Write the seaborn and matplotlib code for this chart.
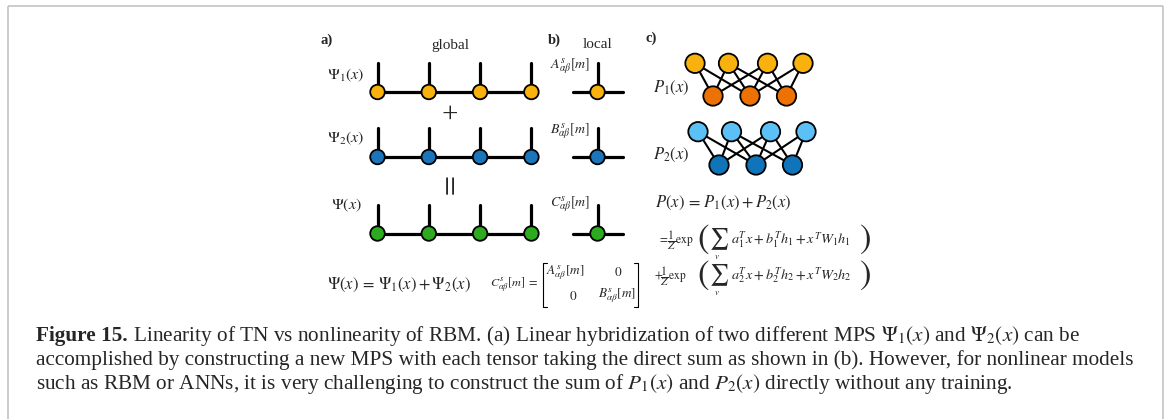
import numpy as np
import pandas as pd
import matplotlib
matplotlib.use("Agg")
import matplotlib.pyplot as plt
import seaborn as sns

# ------------------------------------------------------------------ data
mps_sites = [1, 2, 3, 4]
mps_rows = ["psi1", "psi2", "psi"]
mps_row_labels = [r"$\Psi_1(x)$", r"$\Psi_2(x)$", r"$\Psi(x)$"]
local_labels = [r"$A^s_{\alpha\beta}[m]$", r"$B^s_{\alpha\beta}[m]$", r"$C^s_{\alpha\beta}[m]$"]
mps_colors = ["#F9B10E", "#1B75BB", "#2DAA1F"]

rbm_models = ["P1", "P2"]
rbm_labels = [r"$P_1(x)$", r"$P_2(x)$"]
rbm_visible = [1, 2, 3, 4]
rbm_hidden = [1, 2, 3]
rbm_edges = [(1, 1), (1, 2), (2, 1), (2, 2), (2, 3), (3, 1), (3, 2), (3, 3), (4, 2), (4, 3)]
rbm_visible_colors = ["#F9B10E", "#5BC0F5"]
rbm_hidden_colors = ["#EE7203", "#0F74BA"]

panel_letters = ["a)", "b)", "c)"]
panel_titles = ["global", "local"]

eq_mps = r"$\Psi(x)\,=\,\Psi_1(x)+\Psi_2(x)$"
eq_c_lhs = r"$C^s_{\alpha\beta}[m]\;=$"
matrix_entries = [[r"$A^s_{\alpha\beta}[m]$", r"$0$"], [r"$0$", r"$B^s_{\alpha\beta}[m]$"]]
eq_p = r"$P(x)\,=\,P_1(x)+P_2(x)$"
eq_terms_prefix = [r"$=\!\dfrac{1}{Z}\mathrm{exp}$", r"$+\!\dfrac{1}{Z}\mathrm{exp}$"]
eq_terms_body = [r"$a_1^Tx+b_1^Th_1+x^TW_1h_1$", r"$a_2^Tx+b_2^Th_2+x^TW_2h_2$"]
sum_symbol = r"$\sum$"
sum_index = r"$v$"

caption_bold = "Figure 15."
caption_lines = [
    r" Linearity of TN vs nonlinearity of RBM. (a) Linear hybridization of two different MPS $\Psi_1(x)$ and $\Psi_2(x)$ can be",
    "accomplished by constructing a new MPS with each tensor taking the direct sum as shown in (b). However, for nonlinear models",
    r"such as RBM or ANNs, it is very challenging to construct the sum of $P_1(x)$ and $P_2(x)$ directly without any training.",
]

# ------------------------------------------------------------------ layout
W, H = 1167, 419
sns.set_theme(style="white")
plt.rcParams["font.family"] = ["Liberation Serif", "DejaVu Serif"]
plt.rcParams["mathtext.fontset"] = "stix"

fig = plt.figure(figsize=(W / 100, H / 100), dpi=100)
fig.patch.set_facecolor("white")
ax = fig.add_axes([0, 0, 1, 1])
ax.set_xlim(0, W)
ax.set_ylim(H, 0)
ax.axis("off")

# frame
frame_c = "#c4c4c4"
ax.plot([7.5, 7.5], [H + 5, 5.7], color=frame_c, lw=1.2, solid_capstyle="butt")
ax.plot([7.5, 1162.5], [5.7, 5.7], color=frame_c, lw=1.2, solid_capstyle="butt")
ax.plot([1162.5, 1162.5], [5.7, H + 5], color=frame_c, lw=1.2, solid_capstyle="butt")

# MPS chains
site_x0, site_dx = 377.5, 51.3
row_y = [92, 157, 233.5]
row_label_y = [75, 138.5, 205]
local_label_y = [66.7, 131.7, 204]
stem = 29
local_x, local_half = 597.5, 25
bond_lw = 2.3

nodes = []
for r, (row, y) in enumerate(zip(mps_rows, row_y)):
    xs = [site_x0 + (s - 1) * site_dx for s in mps_sites]
    ax.plot([xs[0], xs[-1]], [y, y], color="black", lw=bond_lw, zorder=2)
    for x in xs:
        ax.plot([x, x], [y - stem, y], color="black", lw=bond_lw, zorder=2)
        nodes.append({"x": x, "y": y, "row": row})
    ax.plot([local_x - local_half, local_x + local_half], [y, y], color="black", lw=bond_lw, zorder=2)
    ax.plot([local_x, local_x], [y - stem, y], color="black", lw=bond_lw, zorder=2)
    nodes.append({"x": local_x, "y": y, "row": row})
    ax.text(346, row_label_y[r], mps_row_labels[r], fontsize=11.5, ha="center", va="center")
    ax.text(570, local_label_y[r], local_labels[r], fontsize=10, ha="center", va="center")

df_mps = pd.DataFrame(nodes)
sns.scatterplot(data=df_mps, x="x", y="y", hue="row", palette=dict(zip(mps_rows, mps_colors)),
                s=110, edgecolor="black", linewidth=1.3, legend=False, zorder=3, ax=ax)

ax.text(450, 115, "+", fontsize=21, ha="center", va="center")
ax.text(449, 188, r"$=$", fontsize=21, ha="center", va="center", rotation=90)

# panel letters and titles
ax.text(326.7, 40, panel_letters[0], fontsize=10.5, fontweight="bold", ha="center", va="center")
ax.text(554, 40, panel_letters[1], fontsize=10.5, fontweight="bold", ha="center", va="center")
ax.text(650.7, 38.5, panel_letters[2], fontsize=10.5, fontweight="bold", ha="center", va="center")
ax.text(450, 45, panel_titles[0], fontsize=11, ha="center", va="center")
ax.text(598, 45, panel_titles[1], fontsize=11, ha="center", va="center")

# RBMs
vis_off = [0, 33.5, 72.5, 108]
hid_off = [18, 55, 91.5]
rbm_base = [695, 698]
rbm_vy = [63.3, 131.7]
rbm_hy = [96, 165]
rbm_label_y = [88, 155]
rbm_nodes = []
for m, model in enumerate(rbm_models):
    vx = {v: rbm_base[m] + vis_off[v - 1] for v in rbm_visible}
    hx = {h: rbm_base[m] + hid_off[h - 1] + (3 if m == 1 else 0) for h in rbm_hidden}
    for v, h in rbm_edges:
        ax.plot([vx[v], hx[h]], [rbm_vy[m], rbm_hy[m]], color="black", lw=1.5, zorder=2)
    for v in rbm_visible:
        rbm_nodes.append({"x": vx[v], "y": rbm_vy[m], "unit": f"{model}_v"})
    for h in rbm_hidden:
        rbm_nodes.append({"x": hx[h], "y": rbm_hy[m], "unit": f"{model}_h"})
    ax.text(671, rbm_label_y[m], rbm_labels[m], fontsize=12, ha="center", va="center")

df_rbm = pd.DataFrame(rbm_nodes)
rbm_pal = {}
for m, model in enumerate(rbm_models):
    rbm_pal[f"{model}_v"] = rbm_visible_colors[m]
    rbm_pal[f"{model}_h"] = rbm_hidden_colors[m]
sns.scatterplot(data=df_rbm, x="x", y="y", hue="unit", palette=rbm_pal, s=195,
                edgecolor="black", linewidth=1.3, legend=False, zorder=3, ax=ax)

# equations (panel a/b)
ax.text(327, 285, eq_mps, fontsize=12, ha="left", va="center")
ax.text(539, 285, eq_c_lhs, fontsize=8.8, ha="right", va="center")
bl, br, bt, bb, bw = 543, 638, 263, 307, 4
ax.plot([bl + bw, bl, bl, bl + bw], [bt, bt, bb, bb], color="black", lw=0.8)
ax.plot([br - bw, br, br, br - bw], [bt, bt, bb, bb], color="black", lw=0.8)
mat_x = [[565.5, 618.3], [573.3, 616.7]]
mat_y = [272.7, 296]
for i in range(2):
    for j in range(2):
        ax.text(mat_x[i][j], mat_y[i], matrix_entries[i][j], fontsize=9.5, ha="center", va="center")

# equations (panel c)
ax.text(655, 203, eq_p, fontsize=12, ha="left", va="center")
term_y = [240, 276]
term_prefix_x = [658, 654]
for k in range(2):
    y = term_y[k]
    ax.text(term_prefix_x[k], y, eq_terms_prefix[k], fontsize=8.3, ha="left", va="center")
    ax.text(703, y - 1, r"$($", fontsize=25, ha="center", va="center")
    ax.text(719, y - 1, sum_symbol, fontsize=15, ha="center", va="center")
    ax.text(717, y + 17, sum_index, fontsize=6.5, ha="center", va="center")
    ax.text(731, y, eq_terms_body[k], fontsize=10.3, ha="left", va="center")
    ax.text(865, y - 1, r"$)$", fontsize=25, ha="center", va="center")

# caption
cap_fs = 15.3
baselines = [341, 365, 389]
fig.canvas.draw()
renderer = fig.canvas.get_renderer()
tb = ax.text(36, baselines[0], caption_bold, fontsize=cap_fs, fontweight="bold", ha="left", va="baseline")
bb_ = tb.get_window_extent(renderer=renderer)
x_after = bb_.x1 * W / fig.bbox.width
ax.text(x_after, baselines[0], caption_lines[0], fontsize=cap_fs, ha="left", va="baseline")
ax.text(36, baselines[1], caption_lines[1], fontsize=cap_fs, ha="left", va="baseline")
ax.text(36, baselines[2], caption_lines[2], fontsize=cap_fs, ha="left", va="baseline")

fig.savefig("out.png", dpi=100, facecolor="white")
